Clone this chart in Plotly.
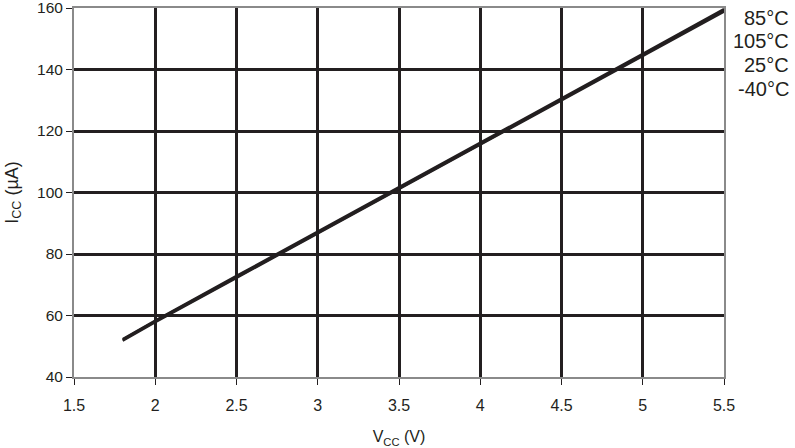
import plotly.graph_objects as go

vcc = [1.8, 2.0, 2.5, 3.0, 3.5, 4.0, 4.5, 5.0, 5.5]
icc_85 = [52.4, 58.4, 72.9, 87.3, 101.7, 116.1, 130.6, 145.1, 159.7]
icc_105 = [52.2, 58.2, 72.6, 87.0, 101.4, 115.8, 130.3, 144.8, 159.4]
icc_25 = [52.0, 58.0, 72.4, 86.8, 101.2, 115.6, 130.1, 144.6, 159.1]
icc_m40 = [51.8, 57.8, 72.2, 86.6, 101.0, 115.4, 129.9, 144.4, 158.8]
series = [("85°C", icc_85), ("105°C", icc_105), ("25°C", icc_25), ("-40°C", icc_m40)]

x_ticks = [1.5, 2, 2.5, 3, 3.5, 4, 4.5, 5, 5.5]
x_tick_text = ["1.5", "2", "2.5", "3", "3.5", "4", "4.5", "5", "5.5"]
y_ticks = [40, 60, 80, 100, 120, 140, 160]

ink = "#231f20"
font = "Liberation Sans, Arial, sans-serif"

L, R, T, B = 74, 724, 8, 377
W, H = 795, 448

fig = go.Figure()
for name, vals in series:
    fig.add_trace(go.Scatter(x=vcc, y=vals, mode="lines", name=name,
                             line=dict(color=ink, width=2.2), showlegend=False,
                             cliponaxis=False))

label_y = [18, 41, 65, 88.5]
for (name, _), py in zip(series, label_y):
    fig.add_annotation(text=name, xref="paper", yref="paper",
                       x=1.0 + (791 - R) / (R - L), xanchor="right",
                       y=1 - (py - T) / (B - T), yanchor="middle",
                       showarrow=False, font=dict(size=20, color=ink, family=font))

fig.update_layout(
    width=W, height=H,
    margin=dict(l=L, r=W - R, t=T, b=H - B, autoexpand=False),
    paper_bgcolor="white", plot_bgcolor="white",
    font=dict(family=font, color=ink, size=15),
    xaxis=dict(range=[1.5, 5.5], tickvals=x_ticks, ticktext=x_tick_text,
               showgrid=True, gridcolor=ink, gridwidth=3,
               showline=True, linecolor="#8a8a8a", linewidth=2, mirror=True,
               ticks="outside", ticklen=6, tickcolor=ink, tickwidth=1,
               tickfont=dict(size=16, color=ink), automargin=False,
               ticklabeloverflow="allow", ticklabelstandoff=7,
               title=dict(text="V<sub>CC</sub> (V)", font=dict(size=16, color=ink), standoff=18),
               zeroline=False),
    yaxis=dict(range=[40, 160], tickvals=y_ticks,
               showgrid=True, gridcolor=ink, gridwidth=3,
               showline=True, linecolor="#8a8a8a", linewidth=2, mirror=True,
               ticks="outside", ticklen=6, tickcolor=ink, tickwidth=1,
               tickfont=dict(size=15.5, color=ink), automargin=False,
               ticklabeloverflow="allow",
               title=dict(text="I<sub>CC</sub> (µA)", font=dict(size=18, color=ink), standoff=14),
               zeroline=False),
)

fig.write_html("out.html", config={"displayModeBar": False},
               post_script="document.body.style.margin='0';")
